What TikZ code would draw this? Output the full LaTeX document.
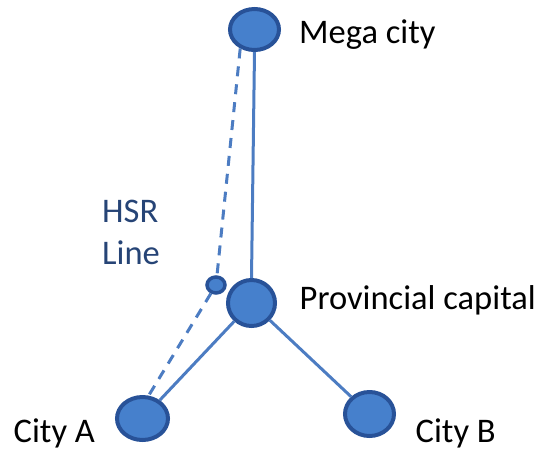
\documentclass[tikz,border=0pt]{standalone}
\usepackage{fontspec}
\setmainfont{Carlito}
\usepackage{xcolor}
\usetikzlibrary{shapes.geometric}
\definecolor{cityfill}{RGB}{70,128,204}
\definecolor{cityedge}{RGB}{40,82,152}
\definecolor{linkblue}{RGB}{76,124,194}
\definecolor{hsrtext}{RGB}{38,68,118}

\begin{document}
\begin{tikzpicture}[x=1pt,y=-1pt,
  city/.style={ellipse,draw=cityedge,fill=cityfill,line width=4pt,inner sep=0pt},
  link/.style={linkblue,line width=3pt},
  hsrlink/.style={link,dash pattern=on 10pt off 8pt},
  lbl/.style={anchor=base west,inner sep=0pt,font=\fontsize{34.5}{42}\selectfont}]
\useasboundingbox (0,0) rectangle (538,448);
\node[city,minimum width=49pt,minimum height=41pt] (mega) at (254.5,29.5) {};
\node[city,minimum width=47pt,minimum height=46pt] (capital) at (251.5,303) {};
\node[city,minimum width=51pt,minimum height=43pt] (cityA) at (142.5,418.5) {};
\node[city,minimum width=49pt,minimum height=44pt] (cityB) at (369.5,414) {};
\node[city,line width=3.5pt,minimum width=18pt,minimum height=16pt] (hub) at (216,285) {};
\draw[link] (mega.south) -- (capital.north);
\draw[link] (capital) -- (cityA);
\draw[link] (capital) -- (cityB);
\draw[hsrlink] (mega.233) -- (hub);
\draw[hsrlink] (hub) -- (cityA.75);
\node[lbl] (megalbl) at (299,43) {Mega city};
\node[lbl] (capitallbl) at (299.5,309) {Provincial capital};
\node[lbl] (cityAlbl) at (13.5,442) {City A};
\node[lbl] (cityBlbl) at (415.5,442) {City B};
\node[lbl,anchor=south west,align=left,text=hsrtext] (hsrlbl) at (102,265) {HSR\\Line};
\end{tikzpicture}
\end{document}
